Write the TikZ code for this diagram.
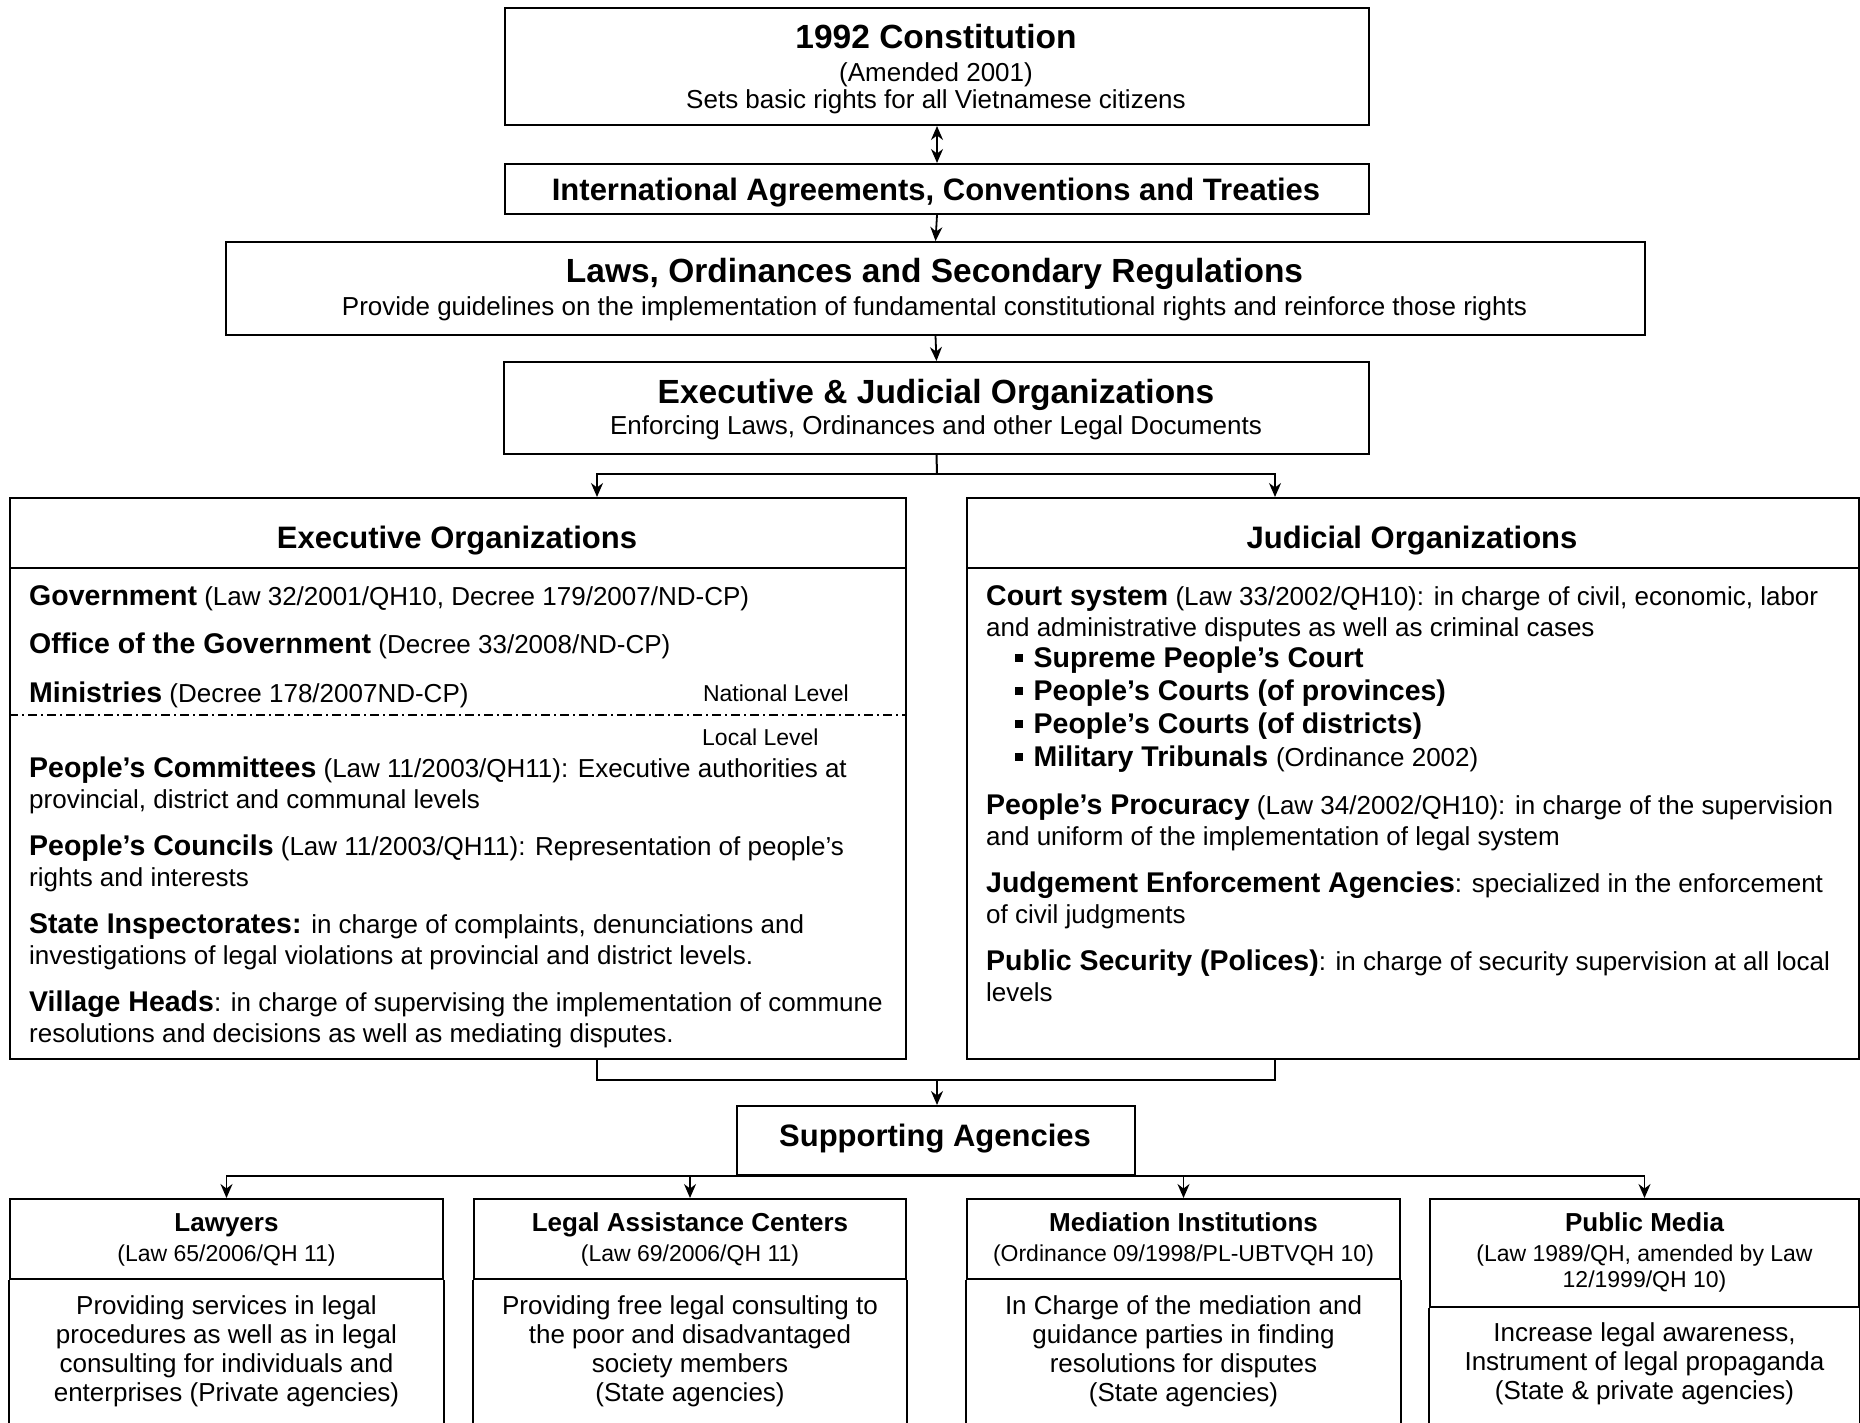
\documentclass[tikz,border=0pt]{standalone}
\usepackage{fontspec}
\setmainfont{Liberation Sans}
\usetikzlibrary{arrows.meta}
\newcommand\jbul{\rule[5pt]{8pt}{8pt}\hspace{10.5pt}}
\newcommand\bterm[1]{{\fontsize{28.5}{31}\selectfont\bfseries #1}}
\begin{document}
\begin{tikzpicture}[x=1pt,y=-1pt,
  box/.style={draw, line width=2pt, inner sep=0pt, anchor=north west},
  ln/.style={line width=2pt},
  arr/.style={line width=1.8pt, -{Stealth[length=14pt,width=12pt]}},
  darr/.style={line width=1.8pt, {Stealth[length=14pt,width=12pt]}-{Stealth[length=14pt,width=12pt]}},
  tx/.style={inner sep=0pt, anchor=base},
  ttl/.style={tx, font=\fontsize{33.5}{40}\selectfont\bfseries},
  hdr/.style={tx, font=\fontsize{31}{37}\selectfont\bfseries},
  sub/.style={tx, font=\fontsize{26}{30}\selectfont},
  par/.style={inner sep=0pt, anchor=base west, align=left, font=\fontsize{26}{31}\selectfont},
  lvl/.style={inner sep=0pt, font=\fontsize{23}{27}\selectfont},
  bhdr/.style={tx, font=\fontsize{26}{30}\selectfont\bfseries},
  bsub/.style={tx, align=center, font=\fontsize{23}{26}\selectfont},
  bbody/.style={tx, align=center, font=\fontsize{26}{29}\selectfont}
]
\useasboundingbox (0,0) rectangle (1860,1423);
\coordinate (bot) at (0,1423);

% ---- top chain ----
\node[box, minimum width=864pt, minimum height=117pt] (con) at (504,7) {};
\node[ttl] (conT) at (936,49) {1992 Constitution};
\node[sub] (conA) at (936,82) {(Amended 2001)};
\node[sub] (conS) at (936,109) {Sets basic rights for all Vietnamese citizens};

\node[box, minimum width=864pt, minimum height=50pt] (intl) at (504,163) {};
\node[tx, font=\fontsize{31}{37}\selectfont\bfseries] (intlT) at (936,201) {International Agreements, Conventions and Treaties};

\node[box, minimum width=1419pt, minimum height=93pt] (laws) at (225,241) {};
\node[ttl] (lawsT) at (934.5,283) {Laws, Ordinances and Secondary Regulations};
\node[sub] (lawsS) at (934.5,315) {Provide guidelines on the implementation of fundamental constitutional rights and reinforce those rights};

\node[box, minimum width=865pt, minimum height=92pt] (ej) at (503,361) {};
\node[ttl] (ejT) at (936,403) {Executive \& Judicial Organizations};
\node[sub] (ejS) at (936,434) {Enforcing Laws, Ordinances and other Legal Documents};

\draw[darr] (con.south) -- (intl.north);
\draw[arr] (intl.south) -- (laws.north);
\draw[arr] (laws.south) -- (ej.north);

% ---- executive ----
\node[box, minimum width=896pt, minimum height=70pt] (exechd) at (9,497) {};
\node[box, minimum width=896pt, minimum height=491pt] (execbd) at (9,567) {};
\node[hdr] (execT) at (457,548) {Executive Organizations};
\node[par] (g1) at (29,605) {\bterm{Government} (Law 32/2001/QH10, Decree 179/2007/ND-CP)};
\node[par] (g2) at (29,653) {\bterm{Office of the Government} (Decree 33/2008/ND-CP)};
\node[par] (g3) at (29,702) {\bterm{Ministries} (Decree 178/2007ND-CP)};
\node[lvl, anchor=base east] (natl) at (849,701) {National Level};
\draw[line width=1.5pt, dash pattern=on 9pt off 4pt on 2pt off 4pt] (execbd.west |- 0,715) -- (execbd.east |- 0,715);
\node[lvl, anchor=base west] (locl) at (702,745) {Local Level};
\node[par] (g4) at (29,808) {\bterm{People’s Committees} (Law 11/2003/QH11): Executive authorities at\\provincial, district and communal levels};
\node[par] (g5) at (29,886) {\bterm{People’s Councils} (Law 11/2003/QH11): Representation of people’s\\rights and interests};
\node[par] (g6) at (29,964) {\bterm{State Inspectorates:} in charge of complaints, denunciations and\\investigations of legal violations at provincial and district levels.};
\node[par] (g7) at (29,1042) {\bterm{Village Heads}: in charge of supervising the implementation of commune\\resolutions and decisions as well as mediating disputes.};

% ---- judicial ----
\node[box, minimum width=892pt, minimum height=70pt] (judhd) at (966,497) {};
\node[box, minimum width=892pt, minimum height=491pt] (judbd) at (966,567) {};
\node[hdr] (judT) at (1412,548) {Judicial Organizations};
\node[par] (j1) at (986,636) {\bterm{Court system} (Law 33/2002/QH10): in charge of civil, economic, labor\\and administrative disputes as well as criminal cases};
\node[par, font=\fontsize{28.5}{33}\selectfont\bfseries] (jb) at (1015,766) {\jbul Supreme People’s Court\\\jbul People’s Courts (of provinces)\\\jbul People’s Courts (of districts)\\\jbul Military Tribunals {\fontsize{26}{33}\selectfont\mdseries (Ordinance 2002)}};
\node[par] (j2) at (986,845) {\bterm{People’s Procuracy} (Law 34/2002/QH10): in charge of the supervision\\and uniform of the implementation of legal system};
\node[par] (j3) at (986,923) {\bterm{Judgement Enforcement Agencies}: specialized in the enforcement\\of civil judgments};
\node[par] (j4) at (986,1001) {\bterm{Public Security (Polices)}: in charge of security supervision at all local\\levels};

% ---- connectors middle ----
\coordinate (ejs) at (937,474);
\coordinate (exin) at (597,497);
\coordinate (judin) at (1275,497);
\draw[ln] (ej.south) -- (ejs);
\draw[arr] (ejs) -| (exin);
\draw[arr] (ejs) -| (judin);

\coordinate (exout) at (597,1058);
\coordinate (judout) at (1275,1058);
\coordinate (mid) at (937,1080);
\draw[ln] (exout) |- (mid) -| (judout);

% ---- supporting ----
\node[box, minimum width=398pt, minimum height=69pt] (sup) at (736,1105) {};
\node[hdr] (supT) at (935,1146) {Supporting Agencies};
\draw[arr] (mid) -- (sup.north -| mid);

% ---- bottom boxes ----
\node[box, minimum width=433pt, minimum height=80pt] (lawhd) at (9,1198) {};
\node[box, minimum width=432pt, minimum height=80pt] (lachd) at (473,1198) {};
\node[box, minimum width=433pt, minimum height=80pt] (medhd) at (966,1198) {};
\node[box, minimum width=429pt, minimum height=108pt] (pmhd) at (1429,1198) {};

\foreach \b in {lawhd,lachd,medhd,pmhd}{
  \draw[ln] (\b.south west) -- (\b.south west |- bot);
  \draw[ln] (\b.south east) -- (\b.south east |- bot);
  \draw[arr] (sup.south) -| (\b.north);
}

\node[bhdr] (lawT) at (lawhd.north |- 0,1231) {Lawyers};
\node[bsub] (lawS) at (lawhd.north |- 0,1261) {(Law 65/2006/QH 11)};
\node[bbody] (lawB) at (lawhd.north |- 0,1401) {Providing services in legal\\procedures as well as in legal\\consulting for individuals and\\enterprises (Private agencies)};

\node[bhdr] (lacT) at (lachd.north |- 0,1231) {Legal Assistance Centers};
\node[bsub] (lacS) at (lachd.north |- 0,1261) {(Law 69/2006/QH 11)};
\node[bbody] (lacB) at (lachd.north |- 0,1401) {Providing free legal consulting to\\the poor and disadvantaged\\society members\\(State agencies)};

\node[bhdr] (medT) at (medhd.north |- 0,1231) {Mediation Institutions};
\node[bsub] (medS) at (medhd.north |- 0,1261) {(Ordinance 09/1998/PL-UBTVQH 10)};
\node[bbody] (medB) at (medhd.north |- 0,1401) {In Charge of the mediation and\\guidance parties in finding\\resolutions for disputes\\(State agencies)};

\node[bhdr] (pmT) at (pmhd.north |- 0,1231) {Public Media};
\node[bsub] (pmS) at (pmhd.north |- 0,1287) {(Law 1989/QH, amended by Law\\12/1999/QH 10)};
\node[bbody] (pmB) at (pmhd.north |- 0,1399) {Increase legal awareness,\\Instrument of legal propaganda\\(State \& private agencies)};
\end{tikzpicture}
\end{document}
